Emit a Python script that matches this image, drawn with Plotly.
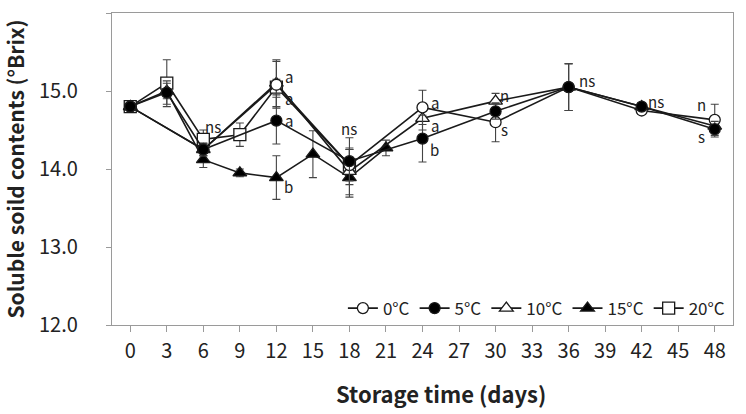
import plotly.graph_objects as go

# ---- data ----
series_names = ["0°C", "5°C", "10°C", "15°C", "20°C"]

days_0 = [0, 6, 12, 18, 24, 30, 36, 42, 48]
ssc_0 = [14.80, 14.25, 15.08, 14.05, 14.79, 14.60, 15.05, 14.75, 14.63]
err_0 = [0.05, 0.08, 0.30, 0.20, 0.22, 0.25, 0.30, 0.05, 0.20]

days_5 = [0, 3, 6, 12, 18, 24, 30, 36, 42, 48]
ssc_5 = [14.80, 14.98, 14.25, 14.62, 14.10, 14.39, 14.74, 15.05, 14.80, 14.51]
err_5 = [0.05, 0.15, 0.08, 0.30, 0.30, 0.30, 0.10, 0.30, 0.05, 0.10]

days_10 = [0, 6, 12, 18, 24, 30, 36, 42, 48]
ssc_10 = [14.80, 14.25, 15.10, 13.97, 14.65, 14.87, 15.05, 14.80, 14.55]
err_10 = [0.05, 0.08, 0.30, 0.30, 0.15, 0.10, 0.30, 0.05, 0.10]

days_15 = [0, 3, 6, 9, 12, 15, 18, 21]
ssc_15 = [14.80, 15.00, 14.12, 13.95, 13.89, 14.19, 13.89, 14.27]
err_15 = [0.05, 0.10, 0.10, 0.05, 0.28, 0.30, 0.25, 0.10]

days_20 = [0, 3, 6, 9, 12, 18]
ssc_20 = [14.80, 15.10, 14.38, 14.44, 15.05, 14.05]
err_20 = [0.05, 0.30, 0.12, 0.15, 0.10, 0.20]

x_ticks = list(range(0, 49, 3))
y_ticks = [12.0, 13.0, 14.0, 15.0, 16.0]

# significance letters: (text, day, value)
sig_labels = [
    ("ns", 6.8, 14.55),
    ("a", 13.0, 15.19), ("a", 13.0, 14.90), ("a", 13.0, 14.62), ("b", 13.0, 13.77),
    ("ns", 18.0, 14.52),
    ("a", 25.0, 14.85), ("a", 25.0, 14.56), ("b", 25.0, 14.25),
    ("n", 30.7, 14.94), ("s", 30.7, 14.51),
    ("ns", 37.5, 15.14),
    ("ns", 43.2, 14.87),
    ("n", 46.9, 14.83), ("s", 46.9, 14.42),
]

FONT = "Noto Sans CJK KR"

styles = {
    "0°C": dict(symbol="circle", color="white"),
    "5°C": dict(symbol="circle", color="black"),
    "10°C": dict(symbol="triangle-up", color="white"),
    "15°C": dict(symbol="triangle-up", color="black"),
    "20°C": dict(symbol="square", color="white"),
}
data = {
    "0°C": (days_0, ssc_0, err_0),
    "5°C": (days_5, ssc_5, err_5),
    "10°C": (days_10, ssc_10, err_10),
    "15°C": (days_15, ssc_15, err_15),
    "20°C": (days_20, ssc_20, err_20),
}

fig = go.Figure()
draw_order = ["20°C", "15°C", "10°C", "0°C", "5°C"]
for name in draw_order:
    x, y, e = data[name]
    st = styles[name]
    fig.add_trace(go.Scatter(
        x=x, y=y, name=name, mode="lines+markers",
        legendrank=series_names.index(name) + 1,
        line=dict(color="#1a1a1a", width=1.6),
        marker=dict(symbol=st["symbol"], size=11 if "circle" in st["symbol"] else 12,
                    color=st["color"], line=dict(color="#1a1a1a", width=1.3)),
        error_y=dict(type="data", array=e, visible=True, color="#444", thickness=1.1, width=4),
    ))

for txt, dx, vy in sig_labels:
    fig.add_annotation(x=dx, y=vy, text=txt, showarrow=False,
                       font=dict(family=FONT, size=15, color="#222"), xanchor="center", yanchor="middle",
                       borderpad=0)

# x-axis title placed as a paper-anchored annotation (offset like the reference)
fig.add_annotation(xref="paper", yref="paper", x=0.53, y=-0.217, text="<b>Storage time (days)</b>",
                   showarrow=False, xanchor="center", yanchor="middle",
                   font=dict(family=FONT, size=22, color="#222"))

fig.update_layout(
    width=746, height=414,
    margin=dict(l=109, r=13, t=12, b=89),
    paper_bgcolor="white", plot_bgcolor="white",
    font=dict(family=FONT, color="#222"),
    legend=dict(orientation="h", x=0.995, y=-0.005, xanchor="right", yanchor="bottom",
                bgcolor="rgba(0,0,0,0)", font=dict(family=FONT, size=17, color="#222"),
                itemwidth=30, tracegroupgap=0, traceorder="normal"),
    showlegend=True,
)
fig.update_xaxes(
    range=[-1.5, 49.5], tickvals=x_ticks, ticktext=[str(t) for t in x_ticks],
    showgrid=False, zeroline=False, showline=True, linecolor="#9a9a9a", linewidth=1.2, mirror=True,
    ticks="outside", ticklen=6, tickcolor="#9a9a9a", ticklabelstandoff=2,
    tickfont=dict(family=FONT, size=20, color="#222"),
)
fig.update_yaxes(
    range=[12.0, 16.0], tickvals=y_ticks, tickformat=".1f",
    showgrid=False, zeroline=False, showline=True, linecolor="#9a9a9a", linewidth=1.2, mirror=True,
    ticks="outside", ticklen=5, tickcolor="#9a9a9a", ticklabelstandoff=24,
    tickfont=dict(family=FONT, size=20, color="#222"),
    title=dict(text="<b>Soluble soild contents (°Brix)</b>", font=dict(family=FONT, size=21, color="#222"), standoff=12),
)

fig.write_html("out.html")
